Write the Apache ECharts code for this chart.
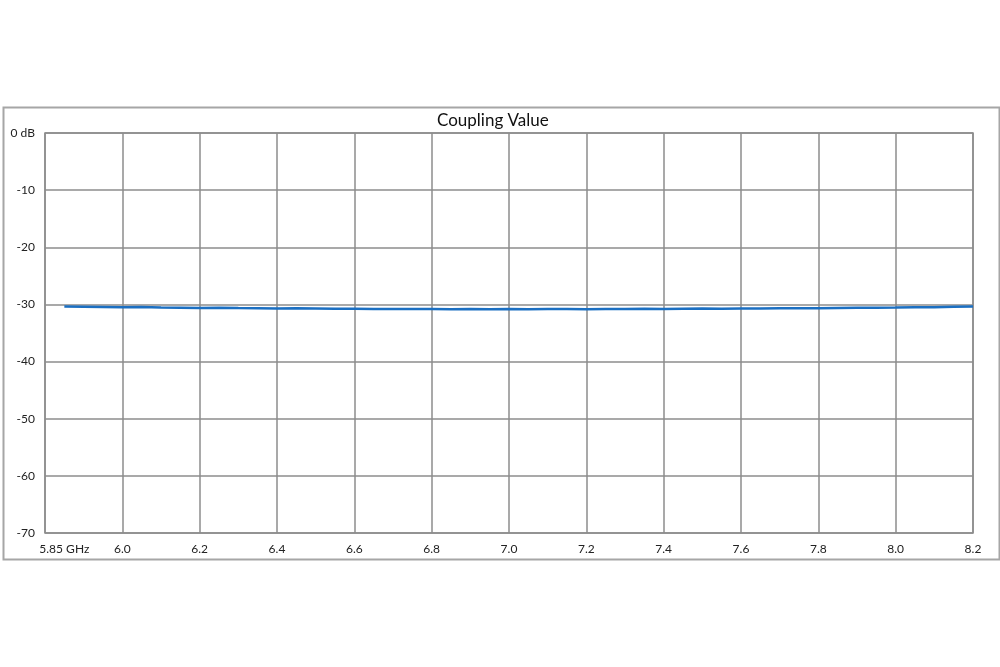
<!DOCTYPE html>
<html>
<head>
<meta charset="utf-8">
<script src="https://cdn.jsdelivr.net/npm/echarts@6/dist/echarts.min.js"></script>
<style>html,body{margin:0;padding:0;background:#fff}#c{width:1000px;height:667px}</style>
</head>
<body>
<div id="c"></div>
<script>
const titleText = 'Coupling Value';
const freqs = [5.85,5.90,5.95,6.00,6.05,6.10,6.15,6.20,6.25,6.30,6.35,6.40,6.45,6.50,6.55,6.60,6.65,6.70,6.75,6.80,6.85,6.90,6.95,7.00,7.05,7.10,7.15,7.20,7.25,7.30,7.35,7.40,7.45,7.50,7.55,7.60,7.65,7.70,7.75,7.80,7.85,7.90,7.95,8.00,8.05,8.10,8.15,8.20];
const coupling = [-30.35,-30.40,-30.45,-30.50,-30.46,-30.55,-30.58,-30.62,-30.60,-30.64,-30.66,-30.70,-30.68,-30.72,-30.76,-30.74,-30.78,-30.78,-30.82,-30.80,-30.84,-30.80,-30.83,-30.79,-30.84,-30.80,-30.82,-30.85,-30.80,-30.79,-30.76,-30.78,-30.74,-30.72,-30.75,-30.70,-30.72,-30.68,-30.66,-30.67,-30.62,-30.60,-30.58,-30.55,-30.50,-30.48,-30.42,-30.38];
const xLabelValues = [5.85,6.0,6.2,6.4,6.6,6.8,7.0,7.2,7.4,7.6,7.8,8.0,8.2];
const yLabels = {0:'0 dB',[-10]:'-10',[-20]:'-20',[-30]:'-30',[-40]:'-40',[-50]:'-50',[-60]:'-60',[-70]:'-70'};

const chart = echarts.init(document.getElementById('c'), null, {renderer:'canvas'});
const gridColor = '#8c8c8c';
chart.setOption({
  animation: false,
  backgroundColor: '#fff',
  title: {
    text: titleText, left: 432, top: 107,
    textStyle: {fontFamily: 'Lato', fontSize: 17, fontWeight: 'normal', color: '#111'}
  },
  graphic: [{
    type: 'rect', left: 1, top: 105, silent: true,
    shape: {width: 996, height: 452},
    style: {fill: 'none', stroke: '#a6a6a6', lineWidth: 2}
  }],
  grid: {left: 45, right: 27, top: 133, bottom: 134, show: true, borderColor: gridColor, borderWidth: 1.5, containLabel: false},
  xAxis: {
    type: 'value', min: 5.8, max: 8.2, interval: 0.2,
    axisLine: {show: false}, axisTick: {show: false},
    splitLine: {show: true, lineStyle: {color: gridColor, width: 1.5}},
    axisLabel: {
      customValues: xLabelValues, margin: 10, fontFamily: 'Lato', fontSize: 12, color: '#222',
      formatter: v => Math.abs(v - 5.85) < 1e-6 ? '5.85 GHz' : v.toFixed(1)
    }
  },
  yAxis: {
    type: 'value', min: -70, max: 0, interval: 10,
    axisLine: {show: false}, axisTick: {show: false},
    splitLine: {show: true, lineStyle: {color: gridColor, width: 1.5}},
    axisLabel: {
      margin: 10, fontFamily: 'Lato', fontSize: 12, color: '#222',
      formatter: v => yLabels[v] !== undefined ? yLabels[v] : String(v)
    }
  },
  series: [{
    type: 'line', data: freqs.map((f, i) => [f, coupling[i]]),
    showSymbol: false, symbol: 'none',
    lineStyle: {color: '#1b6fc2', width: 2.5}
  }]
});
</script>
</body>
</html>
